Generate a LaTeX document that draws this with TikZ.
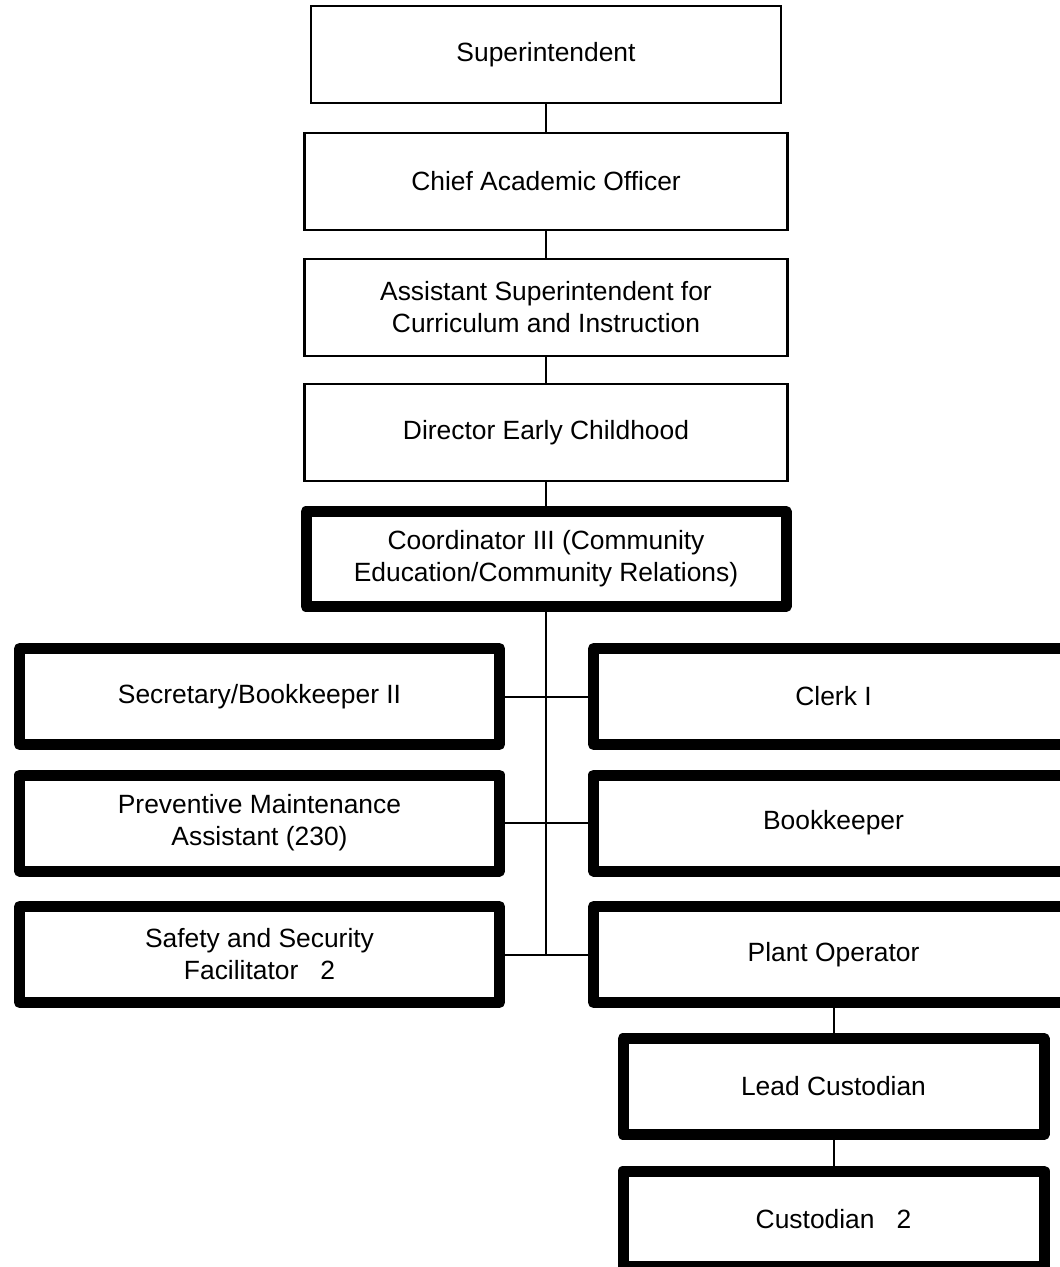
\documentclass[tikz,border=0pt]{standalone}
\usepackage{fontspec}
\setmainfont{Liberation Sans}

\begin{document}
\begin{tikzpicture}[x=0.5pt,y=-0.5pt]
        \tikzstyle{every node}=[draw,rectangle,align=center,inner sep=2pt,outer sep=0pt,font=\fontsize{13.2}{16}\selectfont]
        \tikzstyle{thinbox}=[line width=1.25pt,minimum width=241.5pt,minimum height=48.5pt]
        \tikzstyle{thickbox}=[line width=5.5pt,line join=round,minimum width=240pt,minimum height=48pt]
        \tikzstyle{smallbox}=[thickbox,minimum width=210.5pt]
        \tikzstyle{link}=[line width=1pt]
        \useasboundingbox (0,0) rectangle (1059,1267);
        % top of the chain
        \node[thinbox,minimum width=235pt] (sup) at (546,54.5) {Superintendent};
        \node[thinbox] (cao) at (546,181.5) {Chief Academic Officer};
        \node[thinbox] (asst) at (546,307.5) {Assistant Superintendent for\\Curriculum and Instruction};
        \node[thinbox] (dir) at (546,432.5) {Director Early Childhood};
        \node[thickbox,minimum height=47.5pt] (coord) at (546,559) {Coordinator III (Community\\Education/Community Relations)};
        % staff under the coordinator
        \node[thickbox] (sec) at (259.5,696.5) {Secretary/Bookkeeper II};
        \node[thickbox] (clerk) at (833.5,696.5) {Clerk I};
        \node[thickbox] (prev) at (259.5,823) {Preventive Maintenance\\Assistant (230)};
        \node[thickbox] (bkp) at (833.5,823) {Bookkeeper};
        \node[thickbox] (safety) at (259.5,954.5) {Safety and Security\\Facilitator\ \ \ 2};
        \node[thickbox] (plant) at (833.5,954.5) {Plant Operator};
        \node[smallbox] (lead) at (833.5,1086.5) {Lead Custodian};
        \node[smallbox,minimum height=47.75pt] (cust) at (833.5,1218.75) {Custodian\ \ \ 2};
        % connectors
        \draw[link] (sup) -- (cao) (cao) -- (asst) (asst) -- (dir) (dir) -- (coord);
        \draw[link] (coord.south) -- (coord.south |- safety.east);
        \draw[link] (sec.east) -- (clerk.west) (prev.east) -- (bkp.west) (safety.east) -- (plant.west);
        \draw[link] (plant) -- (lead) (lead) -- (cust);
    \end{tikzpicture}
\end{document}
